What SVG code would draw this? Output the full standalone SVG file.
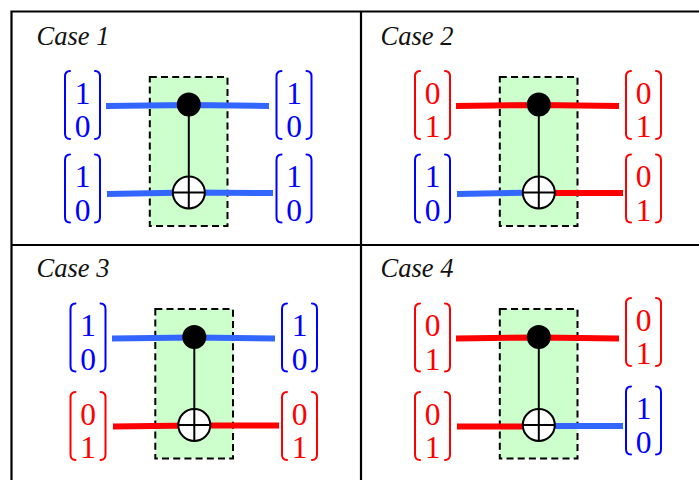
<svg xmlns="http://www.w3.org/2000/svg" xmlns:xlink="http://www.w3.org/1999/xlink" width="699" height="480" viewBox="0 0 699 480">
<style>
.frame{fill:none;stroke:#000;stroke-width:2.2}
.box{fill:#ccffcc;stroke:#000;stroke-width:2;stroke-dasharray:7 4.200}
.w{fill:none;stroke-width:6}
.wb{stroke:#3366ff}.wr{stroke:#ff0000}
.ctl{stroke:#000;stroke-width:2;fill:none}
.dot{fill:#000}
.tgt{fill:#fff;stroke:#000;stroke-width:2}
.lab{font-family:"Liberation Serif",serif;font-style:italic;font-size:26.500px;fill:#111}
.d{font-family:"Liberation Serif",serif;font-size:31.500px;text-anchor:middle;stroke:none}
.br{fill:none;stroke-width:2;stroke-linecap:round;stroke-linejoin:round}
.b{fill:#0000ff}.r{fill:#ff0000}
.bs{stroke:#0000ff}.rs{stroke:#ff0000}
</style>
<defs>
<g id="bb"><path class="br" d="M-12.500 0.500Q-17.500 0.500-17.500 6V63Q-17.500 68.500-12.500 68.500M12.500 0.500Q17.500 0.500 17.500 6V63Q17.500 68.500 12.500 68.500"/></g>
<g id="v10" class="bs"><use xlink:href="#bb"/><text class="d b" x="0" y="33">1</text><text class="d b" x="0" y="66.500">0</text></g>
<g id="v01" class="rs"><use xlink:href="#bb"/><text class="d r" x="0" y="33">0</text><text class="d r" x="0" y="66.500">1</text></g>
<g id="gate"><line class="ctl" x1="0" y1="0" x2="0" y2="88"/><circle class="dot" cx="0" cy="0" r="12"/><circle class="tgt" cx="0" cy="88" r="16"/><path class="ctl" d="M-16 88H16M0 72V104"/></g>
</defs>
<rect width="699" height="480" fill="#fff"/>
<g id="frame"><path class="frame" d="M11.500 480V11.500H699M361 11.500V480M11.500 245H699"/></g>
<g id="labels">
<text class="lab" x="36.500" y="45">Case 1</text>
<text class="lab" x="380.500" y="45">Case 2</text>
<text class="lab" x="36.500" y="277">Case 3</text>
<text class="lab" x="380.500" y="277">Case 4</text>
</g>
<g id="boxes">
<rect id="box1" class="box" x="149.800" y="77" width="77.700" height="149"/>
<rect id="box2" class="box" x="499.800" y="77" width="77.700" height="149"/>
<rect id="box3" class="box" x="155.300" y="309" width="77.700" height="149.500"/>
<rect id="box4" class="box" x="499.800" y="309" width="77.700" height="149.500"/>
</g>
<g id="connectors">
<path class="w wb" d="M106 106L189 105M189 105L269 106"/>
<path class="w wb" d="M107 194L189 192.500L273 193"/>
<path class="w wr" d="M456 106L539 105L619 106"/>
<path class="w wb" d="M457 194L539 192.500"/><path class="w wr" d="M539 193H623"/>
<path class="w wb" d="M112 338.500L194 337.500L275 338.500"/>
<path class="w wr" d="M113 426.500L194 425.500L279 425.500"/>
<path class="w wr" d="M456 338.500L539 337.500L619 338.500"/>
<path class="w wr" d="M457 426.500H539"/><path class="w wb" d="M539 426H623"/>
</g>
<g id="gate1"><use xlink:href="#gate" x="188.800" y="104.500"/></g>
<g id="gate2"><use xlink:href="#gate" x="538.800" y="104.500"/></g>
<g id="gate3"><use xlink:href="#gate" x="194.300" y="337"/></g>
<g id="gate4"><use xlink:href="#gate" x="538.800" y="337"/></g>
<g id="c1in1"><use xlink:href="#v10" x="82.500" y="70.500"/></g>
<g id="c1in2"><use xlink:href="#v10" x="82.500" y="154"/></g>
<g id="c1out1"><use xlink:href="#v10" x="294" y="70.500"/></g>
<g id="c1out2"><use xlink:href="#v10" x="294" y="154"/></g>
<g id="c2in1"><use xlink:href="#v01" x="432.500" y="70.500"/></g>
<g id="c2in2"><use xlink:href="#v10" x="432.500" y="154"/></g>
<g id="c2out1"><use xlink:href="#v01" x="643.500" y="70.500"/></g>
<g id="c2out2"><use xlink:href="#v01" x="643.500" y="154"/></g>
<g id="c3in1"><use xlink:href="#v10" x="88" y="303"/></g>
<g id="c3in2"><use xlink:href="#v01" x="88" y="391.500"/></g>
<g id="c3out1"><use xlink:href="#v10" x="299.500" y="303"/></g>
<g id="c3out2"><use xlink:href="#v01" x="299.500" y="391.500"/></g>
<g id="c4in1"><use xlink:href="#v01" x="432.500" y="303"/></g>
<g id="c4in2"><use xlink:href="#v01" x="432.500" y="391.500"/></g>
<g id="c4out1"><use xlink:href="#v01" x="643.500" y="297.500"/></g>
<g id="c4out2"><use xlink:href="#v10" x="643.500" y="386"/></g>
</svg>
